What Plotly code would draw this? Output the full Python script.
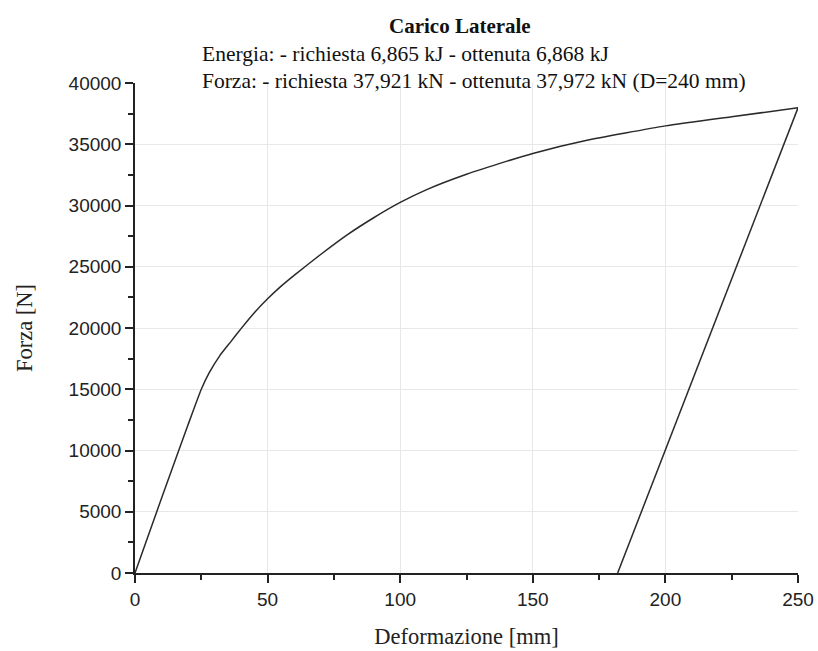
import plotly.graph_objects as go

# Loading curve (Deformazione [mm], Forza [N])
load_x = [0, 10, 20, 25, 28, 32, 36, 40, 45, 50, 55, 60, 70, 80, 90, 100, 110, 125, 140, 150, 170, 200, 225, 250]
load_y = [0, 6100, 12100, 15000, 16350, 17750, 18850, 19950, 21250, 22380, 23400, 24300, 26000, 27600, 29000,
          30250, 31300, 32550, 33600, 34250, 35300, 36500, 37250, 37972]

# Unloading branch
unload_x = [250, 182]
unload_y = [37972, 0]

title_text = "Carico Laterale"
sub1 = "Energia: - richiesta 6,865 kJ - ottenuta 6,868 kJ"
sub2 = "Forza: - richiesta 37,921 kN - ottenuta 37,972 kN (D=240 mm)"
x_title = "Deformazione [mm]"
y_title = "Forza [N]"

line_style = dict(color="#2a2a2a", width=1.5)

fig = go.Figure()
fig.add_trace(go.Scatter(x=load_x, y=load_y, mode="lines", line=dict(shape="spline", smoothing=0.5, **line_style),
                         showlegend=False, hoverinfo="skip"))
fig.add_trace(go.Scatter(x=unload_x, y=unload_y, mode="lines", line=line_style,
                         showlegend=False, hoverinfo="skip"))

serif = "Liberation Serif, Times New Roman, serif"
sans = "Liberation Sans, Arial, sans-serif"

W, H = 818, 651
L, R, T, B = 135, 20, 83, 78
plot_w = W - L - R

fig.update_layout(
    width=W, height=H,
    margin=dict(l=L, r=R, t=T, b=B),
    paper_bgcolor="white", plot_bgcolor="white",
    xaxis=dict(range=[0, 250], dtick=50, tick0=0, showline=True, linecolor="#222", linewidth=1.5,
               ticks="outside", ticklen=8, tickwidth=1.5, tickcolor="#222", tickformat="d",
               ticklabeloverflow="allow", automargin=False,
               showgrid=True, gridcolor="#e8e8e8", gridwidth=1, zeroline=False,
               tickfont=dict(family=sans, size=19, color="#222"),
               minor=dict(dtick=25, ticks="outside", ticklen=5, tickwidth=1.5, tickcolor="#222", showgrid=False),
               title=dict(text=x_title, font=dict(family=serif, size=22.5, color="#222"), standoff=20)),
    yaxis=dict(range=[0, 40000], dtick=5000, tick0=0, showline=True, linecolor="#222", linewidth=1.5,
               ticks="outside", ticklen=8, tickwidth=1.5, tickcolor="#222", tickformat="d",
               automargin=False,
               showgrid=True, gridcolor="#e8e8e8", gridwidth=1, zeroline=False,
               tickfont=dict(family=sans, size=19, color="#222"),
               minor=dict(dtick=2500, ticks="outside", ticklen=5, tickwidth=1.5, tickcolor="#222", showgrid=False),
               title=dict(text=y_title, font=dict(family=serif, size=22.5, color="#222"), standoff=30)),
)

fig.add_annotation(text="<b>" + title_text + "</b>", xref="paper", yref="paper",
                   x=(460 - L) / plot_w, y=1.0,
                   yshift=57, xanchor="center", yanchor="middle", showarrow=False,
                   font=dict(family=serif, size=21, color="#111"))
fig.add_annotation(text=sub1, xref="paper", yref="paper", x=(200 - L) / plot_w, y=1.0,
                   yshift=29, xanchor="left", yanchor="middle", showarrow=False,
                   font=dict(family=serif, size=21.5, color="#111"))
fig.add_annotation(text=sub2, xref="paper", yref="paper", x=(200 - L) / plot_w, y=1.0,
                   yshift=2, xanchor="left", yanchor="middle", showarrow=False,
                   font=dict(family=serif, size=21.5, color="#111"))

fig.write_html("out.html", config={"displayModeBar": False},
               post_script="document.body.style.margin='0px';document.body.style.overflow='hidden';")
